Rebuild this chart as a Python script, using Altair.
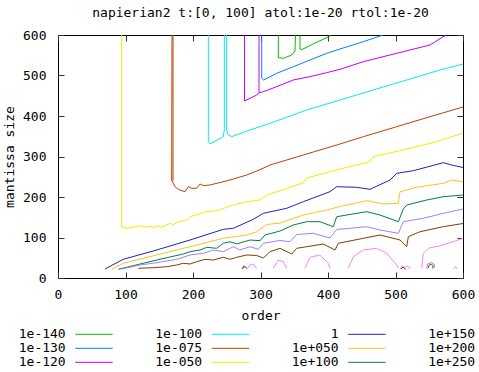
import altair as alt
import pandas as pd

levels = ["1e-140", "1e-130", "1e-120", "1e-100", "1e-075", "1e-050",
          "1", "1e+050", "1e+100", "1e+150", "1e+200", "1e+250"]
colors = ["#00c000", "#0080ff", "#c000ff", "#00eeee", "#c04000", "#eeee00",
          "#2020c0", "#ffc020", "#008040", "#a080ff", "#804000", "#ff80ff"]

x_ticks = [0, 100, 200, 300, 400, 500, 600]
y_ticks = [0, 100, 200, 300, 400, 500, 600]

# contour 1e-140
g1_x = [326.4, 326.4, 333.8, 346.2, 351.1, 351.9]
g1_y = [600, 544.0, 542.5, 550.6, 560.5, 600]
g2_x = [358.5, 358.5, 361.5, 380.7, 400.4, 404.4]
g2_y = [600, 565.4, 564.2, 580.2, 595.0, 600]

# contour 1e-130
b1_x = [301.8, 301.8, 304.5, 306.7, 324.0, 348.6, 373.3, 398.1, 417.8, 452.3, 481.5]
b1_y = [600, 493.1, 488.9, 490.6, 505.4, 521.7, 538.2, 554.8, 565.4, 583.5, 600]

# contour 1e-120
p1_x = [276.3, 276.3, 284.4, 294.4, 297.8, 297.8]
p1_y = [600, 437.0, 443.7, 451.8, 457.5, 600]
p2_x = [297.8, 304.1, 324.0, 348.6, 373.3, 398.1, 417.8, 452.3, 501.8, 551.1, 574.8]
p2_y = [457.5, 460.0, 472.4, 488.9, 497.2, 507.0, 515.3, 534.1, 554.8, 575.3, 600]

# contour 1e-100
c1_x = [222.7, 222.7, 225.2, 244.9, 246.4, 246.4]
c1_y = [600, 336.8, 331.1, 348.9, 365.0, 600]
c2_x = [249.9, 249.9, 252.3, 257.3, 284.4, 314.1, 368.4, 417.8, 467.1, 516.6, 565.9, 600]
c2_y = [600, 365.4, 353.1, 348.9, 365.4, 382.0, 414.8, 439.5, 464.2, 488.9, 513.6, 528.4]

# contour 1e-075
o1_x = [168.9, 168.4, 173.3, 178.2, 188.1, 193.0, 198.1, 205.5, 210.4, 215.3, 225.2,
        254.8, 279.6, 299.3, 314.1, 363.4, 412.9, 452.3, 501.8, 551.1, 600]
o1_y = [600, 242.0, 225.4, 219.0, 213.1, 225.4, 221.5, 221.5, 232.1, 227.9, 229.6,
        242.0, 254.3, 267.4, 279.0, 303.7, 328.4, 348.9, 373.6, 398.3, 422.2]
o2_x = [170.4, 170.4]
o2_y = [600, 240.0]

# contour 1e-050
y1_x = [94.4, 94.4, 101.8, 116.6, 121.5, 128.9, 136.3, 141.2, 148.6, 153.6, 165.9,
        170.8, 178.2, 190.7, 195.6, 220.3, 235.1, 259.7, 279.6, 299.3, 309.2, 328.9,
        363.0, 368.5, 412.9, 462.2, 466.7, 511.1, 561.0, 600]
y1_y = [600, 125.2, 122.7, 126.7, 129.1, 125.2, 128.4, 124.2, 129.1, 125.2, 135.1,
        130.9, 139.0, 143.2, 151.3, 163.7, 166.2, 180.2, 188.4, 192.6, 204.9, 215.5,
        234.6, 246.9, 266.7, 287.1, 299.5, 316.0, 336.5, 358.0]

# contour 1
d1_x = [69.6, 96.7, 146.2, 195.6, 244.9, 259.7, 289.3, 304.1, 338.8, 363.4, 402.9,
        412.9, 442.5, 462.2, 491.9, 501.8, 526.4, 570.8, 583.2, 600]
d1_y = [22.2, 46.2, 69.1, 93.8, 120.2, 122.7, 144.9, 159.7, 172.1, 188.4, 213.1,
        225.4, 223.9, 219.0, 242.0, 258.5, 264.9, 284.7, 279.0, 272.8]

# contour 1e+050
e1_x = [79.6, 96.7, 146.2, 195.6, 244.9, 279.6, 294.4, 309.2, 328.9, 343.7, 363.4,
        402.9, 412.9, 457.3, 481.9, 504.2, 506.7, 531.4, 570.8, 583.2, 600]
e1_y = [22.2, 36.3, 56.8, 77.3, 98.0, 106.2, 114.3, 132.1, 135.8, 144.4, 155.5,
        169.6, 174.6, 190.9, 182.7, 184.4, 213.1, 223.9, 233.8, 242.0, 237.8]

# contour 1e+100
f1_x = [89.3, 146.2, 185.6, 195.6, 210.4, 220.3, 235.1, 244.9, 254.8, 264.7, 284.4,
        299.3, 306.7, 328.9, 348.6, 368.5, 388.1, 407.8, 412.9, 427.7, 457.3, 477.0,
        504.2, 511.6, 516.6, 546.2, 570.8, 600]
f1_y = [21.5, 44.4, 59.3, 64.9, 69.1, 75.8, 73.3, 85.7, 89.6, 84.0, 93.8,
        92.1, 106.2, 116.0, 130.9, 139.0, 139.0, 126.7, 151.3, 155.5, 163.7, 155.5,
        139.0, 170.4, 180.2, 192.6, 200.7, 204.9]

# contour 1e+150
h1_x = [94.4, 121.5, 146.2, 175.9, 195.6, 215.3, 230.1, 244.9, 259.7, 269.6, 284.4,
        296.7, 304.1, 328.9, 343.7, 353.6, 378.2, 402.9, 412.9, 432.6, 457.3, 477.0,
        504.2, 511.6, 541.2, 570.8, 600]
h1_y = [22.2, 32.1, 37.8, 46.2, 56.8, 61.0, 69.1, 64.9, 77.3, 69.1, 77.3,
        70.9, 85.7, 92.6, 89.6, 107.4, 110.4, 98.8, 119.7, 122.7, 126.7, 118.5,
        110.4, 139.0, 147.4, 159.7, 170.4]
h2_x = [274.0, 276.5, 280.0]
h2_y = [22.0, 28.0, 22.0]
h3_x = [546.0, 548.0, 553.0, 558.0, 557.0]
h3_y = [24.0, 35.0, 38.0, 33.0, 24.0]

# contour 1e+200
r1_x = [119.0, 141.2, 161.0, 175.9, 185.6, 195.6, 205.5, 217.8, 230.1, 244.9, 254.8,
        264.7, 279.6, 294.4, 304.1, 314.1, 328.9, 346.2, 353.6, 368.5, 393.0, 410.4,
        415.3, 452.3, 477.0, 506.7, 516.6, 519.0, 536.3, 570.8, 600]
r1_y = [24.0, 25.4, 27.9, 32.1, 36.3, 34.6, 40.2, 46.2, 44.4, 51.1, 46.2,
        51.1, 56.8, 55.6, 49.4, 64.9, 73.3, 59.3, 73.3, 77.3, 83.9, 69.1,
        85.7, 98.0, 106.2, 93.8, 77.3, 102.0, 114.3, 126.7, 134.6]
r2_x = [272.6, 275.5, 279.6]
r2_y = [22.0, 30.0, 24.0]
r3_x = [508.0, 511.0, 515.0]
r3_y = [22.0, 27.0, 22.0]
r4_x = [548.0, 550.0, 553.0, 556.0, 555.0]
r4_y = [24.0, 32.0, 34.0, 30.0, 24.0]

# contour 1e+250
k1_x = [279.6, 284.4, 289.3, 294.4]
k1_y = [22.2, 32.1, 34.6, 22.2]
k2_x = [318.9, 326.3, 333.8, 338.8]
k2_y = [24.0, 44.4, 40.2, 24.0]
k3_x = [365.9, 373.3, 388.1, 400.4, 403.0]
k3_y = [24.0, 51.1, 56.8, 36.3, 24.0]
k4_x = [430.1, 437.5, 452.3, 472.1, 486.9, 501.8, 504.2]
k4_y = [24.0, 52.6, 69.1, 73.3, 61.0, 32.1, 24.0]
k5_x = [538.8, 541.2, 548.6, 570.8, 600]
k5_y = [24.0, 61.0, 73.3, 81.5, 98.0]
k6_x = [506.7, 510.0, 514.0, 518.0, 521.5]
k6_y = [22.0, 30.0, 26.0, 30.0, 22.0]
k7_x = [586.0, 589.0, 592.0]
k7_y = [22.0, 28.0, 22.0]

segments = [
    ("1e-140", "g1", g1_x, g1_y), ("1e-140", "g2", g2_x, g2_y),
    ("1e-130", "b1", b1_x, b1_y),
    ("1e-120", "p1", p1_x, p1_y), ("1e-120", "p2", p2_x, p2_y),
    ("1e-100", "c1", c1_x, c1_y), ("1e-100", "c2", c2_x, c2_y),
    ("1e-075", "o1", o1_x, o1_y), ("1e-075", "o2", o2_x, o2_y),
    ("1e-050", "y1", y1_x, y1_y),
    ("1", "d1", d1_x, d1_y),
    ("1e+050", "e1", e1_x, e1_y),
    ("1e+100", "f1", f1_x, f1_y),
    ("1e+150", "h1", h1_x, h1_y), ("1e+150", "h2", h2_x, h2_y),
    ("1e+150", "h3", h3_x, h3_y),
    ("1e+200", "r1", r1_x, r1_y), ("1e+200", "r2", r2_x, r2_y),
    ("1e+200", "r3", r3_x, r3_y), ("1e+200", "r4", r4_x, r4_y),
    ("1e+250", "k1", k1_x, k1_y), ("1e+250", "k2", k2_x, k2_y),
    ("1e+250", "k3", k3_x, k3_y), ("1e+250", "k4", k4_x, k4_y),
    ("1e+250", "k5", k5_x, k5_y), ("1e+250", "k6", k6_x, k6_y),
    ("1e+250", "k7", k7_x, k7_y),
]

rows = []
for lev, seg, xs, ys in segments:
    for i, (xv, yv) in enumerate(zip(xs, ys)):
        rows.append({"level": lev, "seg": seg, "i": i, "x": xv, "y": yv})
df = pd.DataFrame(rows)

legend_df = pd.DataFrame({
    "level": levels,
    "col": [k // 3 for k in range(len(levels))],
    "row": [k % 3 for k in range(len(levels))],
})

FONT = "DejaVu Sans Mono"
FS = 13

xscale = alt.Scale(domain=[0, 600], nice=False, zero=False)
yscale = alt.Scale(domain=[0, 600], nice=False, zero=False)
cscale = alt.Scale(domain=levels, range=colors)

common_axis = dict(domain=False, grid=False, tickSize=6, tickColor="#333",
                   tickWidth=1, offset=-6, labelFont=FONT, labelFontSize=FS,
                   labelColor="#000", titleFont=FONT, titleFontSize=FS,
                   titleColor="#000", titleFontWeight="normal",
                   labelFlush=False, labelOverlap=False)

lines = alt.Chart(df).mark_line(strokeWidth=1, clip=True).encode(
    x=alt.X("x:Q", scale=xscale,
            axis=alt.Axis(orient="bottom", values=x_ticks, title="order",
                          labelPadding=10, titlePadding=8, **common_axis)),
    y=alt.Y("y:Q", scale=yscale,
            axis=alt.Axis(orient="left", values=y_ticks, title="mantissa size",
                          labelPadding=12, titlePadding=6, **common_axis)),
    color=alt.Color("level:N", scale=cscale, legend=None),
    detail="seg:N",
    order="i:Q",
)

mirror = alt.Chart(df).mark_point(opacity=0, size=1).encode(
    x=alt.X("x:Q", scale=xscale,
            axis=alt.Axis(orient="top", values=x_ticks, labels=False, title=None,
                          **common_axis)),
    y=alt.Y("y:Q", scale=yscale,
            axis=alt.Axis(orient="right", values=y_ticks, labels=False, title=None,
                          **common_axis)),
)

leg_base = alt.Chart(legend_df).transform_calculate(
    lx="7.7 + datum.col * 136.5",
    ly="299.3 + datum.row * 14",
    rx1="datum.lx + 9.5",
    rx2="datum.lx + 47",
)

leg_text = leg_base.mark_text(align="right", baseline="middle", font=FONT,
                              fontSize=FS, color="#000").encode(
    x=alt.X("lx:Q", scale=None, axis=None),
    y=alt.Y("ly:Q", scale=None, axis=None),
    text="level:N",
)

leg_rule = leg_base.mark_rule(strokeWidth=1).encode(
    x=alt.X("rx1:Q", scale=None, axis=None),
    x2="rx2:Q",
    y=alt.Y("ly:Q", scale=None, axis=None),
    color=alt.Color("level:N", scale=cscale, legend=None),
)

chart = alt.layer(lines, mirror, leg_rule, leg_text).resolve_axis(
    x="independent", y="independent"
).properties(
    width=405,
    height=243,
    title=alt.TitleParams("napierian2 t:[0, 100] atol:1e-20 rtol:1e-20",
                          font=FONT, fontSize=FS, fontWeight="normal",
                          color="#000", anchor="middle", frame="group",
                          baseline="alphabetic", offset=-1),
    autosize=alt.AutoSizeParams(type="none"),
    padding={"left": 58, "top": 35, "right": 16, "bottom": 94},
).configure_view(stroke="#000", strokeWidth=1)

chart.save("out.html", embed_options={"renderer": "svg", "actions": False})
